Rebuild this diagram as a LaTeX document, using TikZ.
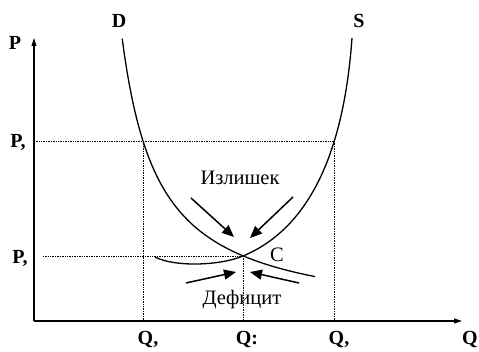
\documentclass[tikz,border=0pt]{standalone}
\usepackage{fontspec}
\setmainfont{Liberation Serif}
\usetikzlibrary{arrows.meta}

\tikzset{
  guia/.style={line width=0.9pt, dash pattern=on 1pt off 0.7pt},
  curva/.style={line width=1.3pt},
  flecha/.style={line width=1.5pt, -{Triangle[length=12pt,width=10pt]}},
  etiq/.style={font=\fontsize{20}{24}\selectfont\bfseries, inner sep=0pt},
  texto/.style={font=\fontsize{20.5}{24}\selectfont, inner sep=0pt}
}

\begin{document}
\begin{tikzpicture}[x=1pt,y=1pt]
  \useasboundingbox (-34,-31) rectangle (445,321);

  % Ejes
  \coordinate (O) at (0,0);
  \coordinate (ejeP) at (0,283);
  \coordinate (ejeQ) at (428,0);
  \draw[line width=1.1pt, -{Triangle[length=8pt,width=5pt]}] (O) -- (ejeP);
  \draw[line width=1.1pt, -{Triangle[length=8pt,width=5pt]}] (O) -- (ejeQ);
  \node[etiq] (P) at (-19,278) {P};
  \node[etiq] (Q) at (436,-19) {Q};

  % Puntos de corte
  \coordinate (A1) at (109,180);
  \coordinate (A3) at (300,180);
  \coordinate (C0) at (209,65);

  % Lineas de guia
  \draw[guia] (0,180) -- (A3);
  \draw[guia] (9,65) -- (C0);
  \draw[guia] (A1) -- (109,0);
  \draw[guia] (C0) -- (209,0);
  \draw[guia] (A3) -- (300,0);

  % Curva D
  \draw[curva] plot[domain=88.2:281, samples=80] (\x, {10426/(\x-51.4)-1});
  % Curva S
  \draw[curva] (121,64) .. controls (140,54) and (185,55) .. (C0)
    .. controls (269,90) and (309,157) .. (318,283);

  % Etiquetas de ejes
  \node[etiq] (P1) at (-16,178) {P,};
  \node[etiq] (P2) at (-14,62) {P,};
  \node[etiq] (Q1) at (114,-19) {Q,};
  \node[etiq] (Q2) at (213,-19) {Q:};
  \node[etiq] (Q3) at (305,-19) {Q,};
  \node[etiq] (D) at (85,300) {D};
  \node[etiq] (S) at (325,300) {S};
  \node[texto] (C) at (243,66) {C};

  % Excedente
  \node[texto] (exc) at (206,143) {Излишек};
  \coordinate (e1) at (157,123);
  \coordinate (e2) at (200,84);
  \coordinate (e3) at (259,124);
  \coordinate (e4) at (216,83);
  \draw[flecha] (e1) -- (e2);
  \draw[flecha] (e3) -- (e4);

  % Deficit
  \node[texto] (def) at (208,21) {Дефицит};
  \coordinate (d1) at (152,38);
  \coordinate (d2) at (202,49);
  \coordinate (d3) at (265,38);
  \coordinate (d4) at (216,49);
  \draw[flecha] (d1) -- (d2);
  \draw[flecha] (d3) -- (d4);
\end{tikzpicture}
\end{document}
